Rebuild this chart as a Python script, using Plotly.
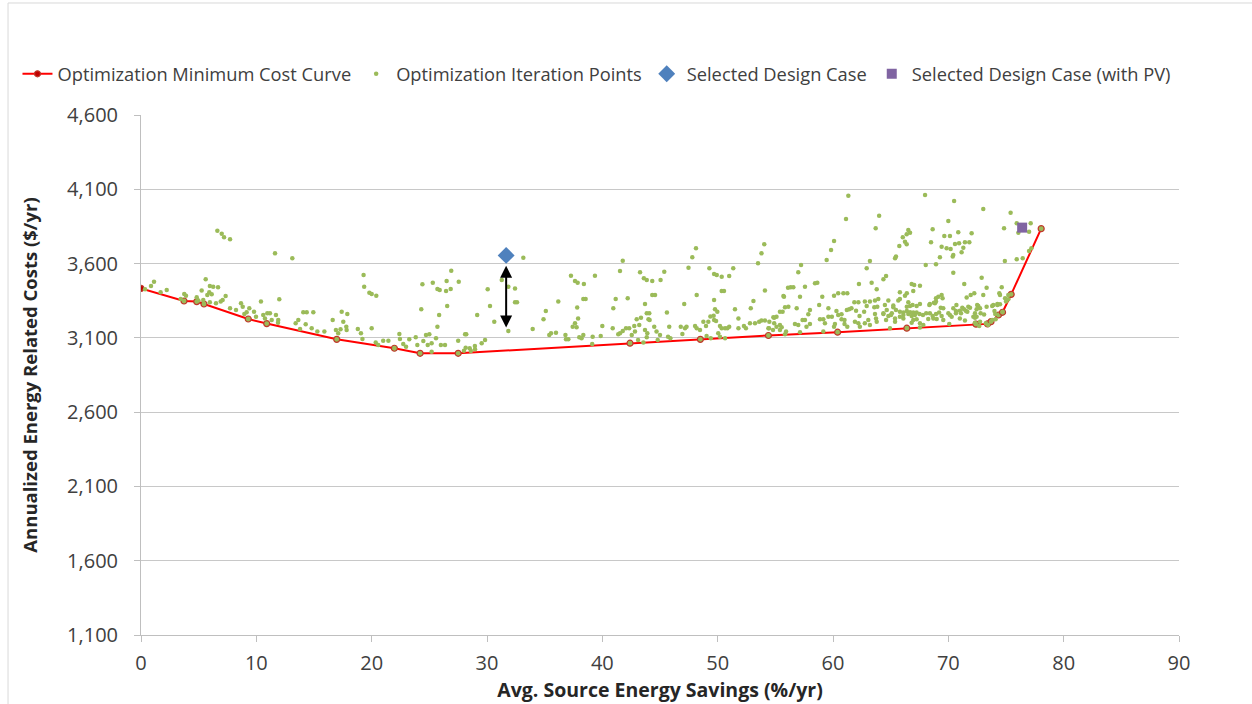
import plotly.graph_objects as go

# ---------------- data ----------------
curve_x = [0, 3.73, 4.83, 5.46, 9.3, 10.9, 16.97, 21.97, 24.2, 27.5, 42.4, 48.5, 54.4,
           60.4, 66.4, 72.4, 73.4, 73.7, 74.35, 74.7, 75.45, 78.05]
curve_y = [3433, 3348, 3344, 3328, 3227, 3196, 3090, 3030, 2996, 2996, 3064, 3090, 3116,
           3138, 3165, 3192, 3194, 3209, 3254, 3272, 3393, 3835]

# iteration points, x in 0-30
iter_x_a = [6.62, 7.0, 7.2, 7.72, 11.62, 13.12, 19.3, 19.35, 19.8, 20.0, 20.4,
            24.4, 24.3, 25.3, 25.7, 25.9, 26.45, 26.85, 26.9, 27.55, 26.55, 25.85, 25.7, 29.15,
            0.35, 0.87, 1.13, 1.7, 2.23, 3.44, 3.75, 3.9, 4.83, 4.97, 5.26, 5.61, 5.4, 5.75,
            5.92, 5.97, 6.13, 6.26, 6.68, 5.97, 6.5, 6.91, 7.08, 7.34, 7.72, 8.24, 8.67, 8.82,
            8.96, 9.16, 9.39, 9.8, 9.97, 10.4, 10.6, 10.75, 10.95, 11.18, 11.33, 11.7, 11.9,
            11.99, 11.88, 13.41, 13.64, 14.07, 14.37, 14.94, 14.28, 13.79, 14.8, 15.29, 15.9,
            16.62, 16.9, 17.4, 17.54, 17.1, 17.3, 17.89,
            17.8, 17.83, 18.8, 19.07, 19.2, 20.0, 20.35, 20.57, 21.0, 21.45, 22.4, 22.45, 22.74,
            23.26, 22.98, 23.82, 23.96, 24.48, 24.71, 25.0, 24.86, 25.2, 25.58, 26.0, 26.36,
            27.5, 28.1, 28.2, 28.95, 28.0, 28.5, 25.2,
            26.5, 28.15, 28.6, 28.96, 29.54, 29.83]
iter_y_a = [3821, 3800, 3777, 3763, 3669, 3635, 3523, 3444, 3404, 3395, 3384,
            3460, 3292, 3471, 3429, 3422, 3415, 3429, 3552, 3478, 3314, 3254, 3175, 3254,
            3427, 3449, 3478, 3407, 3422, 3361, 3395, 3384, 3373, 3351, 3418, 3495, 3355, 3388,
            3407, 3449, 3393, 3444, 3440, 3340, 3333, 3344, 3355, 3382, 3299, 3288, 3333, 3310,
            3261, 3272, 3299, 3276, 3242, 3344, 3254, 3231, 3265, 3265, 3220, 3254, 3220,
            3360, 3202, 3198, 3220, 3272, 3272, 3272, 3191, 3160, 3164, 3142, 3142,
            3220, 3153, 3276, 3209, 3131, 3158, 3261,
            3175, 3153, 3160, 3131, 3092, 3164, 3068, 3052, 3081, 3081, 3126, 3092, 3059,
            3090, 3040, 3104, 3052, 3079, 3119, 3124, 3052, 3063, 3097, 3052, 3052,
            3081, 3124, 3124, 3045, 3014, 3030, 3007,
            3483, 3034, 3011, 3023, 3063, 3086]

# iteration points, x in 30-56
iter_x_b = [30.06, 30.26, 30.63, 31.28, 31.85, 32.43, 32.43, 32.6, 31.85, 33.15, 33.96, 34.9,
            35.1, 35.4, 35.55, 35.98, 36.18, 36.8, 37.05, 36.85, 37.28, 37.63, 37.86, 38.4,
            37.43, 37.77, 37.63, 37.9, 37.82, 38.0, 38.2, 38.35, 38.55, 39.16, 39.12, 39.86,
            40.0, 39.36, 40.9, 40.95, 41.38, 41.53, 41.77, 41.16, 41.77, 41.53, 42.05, 42.33,
            42.2, 42.55, 42.83, 42.77, 43.2, 42.98, 43.35, 43.27, 43.6, 43.85, 44.33, 45.05,
            45.37, 43.7, 43.85, 44.07, 44.0, 44.1, 43.7, 43.9, 44.33, 44.57, 44.5, 44.7, 45.0,
            45.6, 45.8, 46.8, 47.17, 46.94, 47.1, 47.3, 47.47, 47.8, 48.12, 48.04, 48.18, 48.18,
            48.47, 48.76, 49.19, 48.99, 49.28, 49.69, 49.92, 50.35, 51.0, 51.35, 49.37, 49.65,
            49.77, 49.97, 49.69, 49.69, 49.86, 50.2, 50.35, 50.35, 50.55, 50.64, 50.84, 51.0,
            51.5, 51.8, 51.8, 52.87, 53.1, 52.8, 53.24, 53.6, 53.8, 54.1, 53.5, 53.8, 54.04,
            54.1, 54.9, 55.1, 55.4, 55.4, 55.63, 55.7, 56.1, 55.84, 55.4, 54.4, 54.8, 52.45,
            52.28, 50.64, 50.2, 50.05, 49.04, 49.4, 44.8, 43.56, 43.85, 43.1, 45.7, 45.9, 38.35]
iter_y_b = [3427, 3314, 3209, 3489, 3444, 3433, 3340, 3340, 3146, 3640, 3160, 3225,
            3281, 3119, 3131, 3135, 3344, 3119, 3090, 3090, 3518, 3483, 3471, 3462,
            3175, 3171, 3198, 3231, 3305, 3104, 3097, 3361, 3361, 3108, 3059, 3112,
            3180, 3518, 3164, 3299, 3124, 3131, 3146, 3361, 3619, 3550, 3164, 3164,
            3366, 3119, 3142, 3180, 3187, 3225, 3236, 3541, 3501, 3489, 3483, 3489,
            3545, 3328, 3265, 3265, 3225, 3220, 3153, 3131, 3388, 3388, 3175, 3142, 3119,
            3270, 3175, 3175, 3164, 3126, 3328, 3175, 3572, 3642, 3703, 3180, 3388, 3164,
            3153, 3209, 3209, 3180, 3568, 3530, 3523, 3512, 3516, 3568, 3243, 3249,
            3292, 3276, 3355, 3220, 3213, 3180, 3164, 3415, 3415, 3164, 3164, 3175,
            3292, 3231, 3164, 3299, 3348, 3198, 3198, 3209, 3216, 3216, 3602, 3669, 3730,
            3418, 3236, 3175, 3187, 3276, 3276, 3382, 3438, 3124, 3153, 3164, 3153, 3164,
            3180, 3097, 3108, 3131, 3112, 3097, 3086, 3068, 3104, 3086, 3108, 3097, 3119]

# iteration points, x in 54-78
iter_x_c = [61.33, 67.98, 70.5, 73.03, 75.4, 64.0, 61.13, 63.7, 70.0, 68.64, 74.83, 75.93,
            77.14, 76.07, 77.0, 66.53, 66.68, 66.39, 66.05, 66.24, 66.39, 65.75, 69.65, 70.14,
            70.86, 72.02, 69.42, 69.85, 70.2, 70.58, 70.93, 71.44, 71.82, 71.3, 70.43, 70.38,
            69.27, 71.15, 68.5, 65.38, 65.46, 68.04, 68.93, 70.43, 60.09, 59.83, 59.45, 57.23,
            56.99, 63.2, 62.92, 74.9, 75.93, 76.45, 77.0, 77.2, 64.6, 64.37, 62.25, 63.35,
            63.79, 66.82, 67.04, 67.54, 66.96, 71.38, 72.89, 73.32, 74.63, 58.44, 58.64, 57.57,
            56.33, 56.56, 59.07, 60.09, 60.9, 61.24, 61.85, 62.2, 62.76, 63.2, 63.64, 63.93,
            62.92, 63.58, 63.84, 64.8, 65.66, 66.24, 65.23, 66.4, 66.68, 66.9, 67.25, 67.54,
            68.35, 68.84, 68.93, 69.42, 69.5, 69.34, 69.56, 71.59, 71.94, 72.25, 71.21, 71.73,
            71.88, 72.6, 72.75, 73.32, 73.9, 74.25, 74.48, 74.92, 75.2, 72.8, 73.1, 72.17,
            72.31, 71.53, 71.1, 70.43, 70.66, 70.0, 70.29,
            65.8, 66.4, 73.03, 74.42, 75.2, 75.0, 65.8, 66.53, 64.5, 68.4, 68.75, 68.93, 69.13,
            70.7, 71.0, 71.36, 71.65, 72.5, 72.45, 73.8, 74.0, 74.07, 74.25, 74.48, 74.7,
            64.66, 65.23, 65.46, 65.1, 65.38, 65.8, 66.1, 66.4, 66.68, 66.96, 67.25, 66.1,
            66.53, 66.82, 67.1, 67.5, 67.8, 68.08, 65.8, 66.1, 66.96, 67.25, 66.82, 67.54,
            68.4, 68.64, 68.93, 69.2, 69.42, 68.26, 68.7, 68.99, 69.56, 70.08, 67.83, 64.37,
            67.54, 72.31, 72.45, 72.31, 72.68, 73.25, 73.45, 73.8, 74.1, 70.66, 70.14, 71.0,
            71.44, 72.75,
            55.75, 55.84, 56.13, 54.83, 55.1, 54.48, 54.9, 56.85, 56.7, 56.99, 57.36, 57.57,
            57.86, 58.0, 57.7, 57.14, 58.8, 58.87, 59.16, 59.3, 59.6, 59.9, 60.17, 60.09, 60.45,
            60.74, 60.74, 61.0, 61.2, 61.4, 61.6, 61.0, 61.24, 62.0, 61.9, 62.2, 62.3, 62.7,
            62.76, 63.06, 63.64, 63.73, 63.79, 64.37, 64.8, 65.03, 64.6, 65.38, 62.33, 63.2,
            59.16, 55.55, 55.93, 54.45, 57.14, 60.45, 60.3, 59.6, 58.0, 64.94]
iter_y_c = [4057, 4062, 4021, 3967, 3942, 3922, 3900, 3837, 3887, 3831, 3837, 3871,
            3871, 3808, 3815, 3826, 3808, 3797, 3777, 3747, 3730, 3718, 3786, 3786,
            3810, 3804, 3714, 3703, 3698, 3732, 3737, 3743, 3743, 3707, 3658, 3647,
            3642, 3676, 3743, 3635, 3647, 3590, 3595, 3539, 3752, 3691, 3624, 3590,
            3541, 3617, 3568, 3617, 3629, 3635, 3685, 3703, 3516, 3494, 3462, 3471,
            3427, 3462, 3456, 3451, 3415, 3462, 3505, 3438, 3440, 3467, 3471, 3444,
            3440, 3440, 3377, 3384, 3400, 3400, 3340, 3340, 3344, 3344, 3351, 3361,
            3314, 3306, 3310, 3351, 3351, 3384, 3317, 3310, 3314, 3321, 3314, 3328,
            3321, 3333, 3344, 3388, 3366, 3303, 3299, 3371, 3388, 3400, 3303, 3310,
            3303, 3314, 3299, 3310, 3321, 3328, 3388, 3366, 3388, 3265, 3258, 3242,
            3236, 3281, 3265, 3299, 3281, 3265, 3242,
            3407, 3400, 3388, 3400, 3360, 3344, 3361, 3340, 3321, 3328, 3337, 3366, 3377,
            3321, 3283, 3292, 3276, 3321, 3292, 3314, 3281, 3261, 3321, 3326, 3276,
            3288, 3306, 3288, 3265, 3231, 3276, 3270, 3281, 3272, 3270, 3270, 3254,
            3261, 3247, 3254, 3261, 3254, 3265, 3242, 3231, 3220, 3225, 3202, 3198,
            3265, 3247, 3261, 3270, 3247, 3227, 3231, 3227, 3220, 3193, 3187, 3265,
            3169, 3265, 3242, 3202, 3180, 3198, 3187, 3220, 3225, 3265, 3254, 3231,
            3216, 3209,
            3377, 3306, 3310, 3238, 3242, 3209, 3198, 3299, 3193, 3187, 3220, 3220,
            3259, 3193, 3175, 3137, 3321, 3225, 3225, 3198, 3242, 3242, 3193, 3175, 3254,
            3259, 3225, 3220, 3288, 3292, 3299, 3193, 3175, 3283, 3209, 3198, 3247, 3276,
            3198, 3220, 3261, 3231, 3209, 3261, 3247, 3254, 3220, 3209, 3175, 3187,
            3142, 3171, 3142, 3164, 3377, 3400, 3281, 3299, 3288, 3164]

iter_x = iter_x_a + iter_x_b + iter_x_c
iter_y = iter_y_a + iter_y_b + iter_y_c

design_x = [31.66]
design_y = [3655]
design_pv_x = [76.4]
design_pv_y = [3842]

# double-headed arrow between selected design and the optimum band
arrow_x = 31.66
arrow_top = 3595
arrow_bottom = 3170

x_ticks = [0, 10, 20, 30, 40, 50, 60, 70, 80, 90]
y_ticks = [1100, 1600, 2100, 2600, 3100, 3600, 4100, 4600]

# ---------------- figure ----------------
FONT = "Open Sans"
fig = go.Figure()

fig.add_trace(go.Scatter(
    x=curve_x, y=curve_y, mode="lines+markers",
    name="Optimization Minimum Cost Curve",
    line=dict(color="#ff0000", width=2),
    marker=dict(size=6, color=["#c00000"] + ["#9bbb59"] * (len(curve_x) - 1),
                line=dict(color="#c0392b", width=1.2)),
))
fig.add_trace(go.Scatter(
    x=iter_x, y=iter_y, mode="markers",
    name="Optimization Iteration Points",
    marker=dict(size=4.5, color="#9bbb59"),
))
fig.add_trace(go.Scatter(
    x=design_x, y=design_y, mode="markers",
    name="Selected Design Case",
    marker=dict(symbol="diamond", size=13, color="#4f81bd"),
))
fig.add_trace(go.Scatter(
    x=design_pv_x, y=design_pv_y, mode="markers",
    name="Selected Design Case (with PV)",
    marker=dict(symbol="square", size=10, color="#8064a2"),
))

fig.add_annotation(
    x=arrow_x, y=arrow_bottom, ax=arrow_x, ay=arrow_top,
    xref="x", yref="y", axref="x", ayref="y",
    showarrow=True, arrowhead=2, startarrowhead=2, arrowside="end+start",
    arrowsize=1.2, arrowwidth=2, arrowcolor="#000000", text="",
)

# outer chart frame
fig.add_shape(type="rect", xref="paper", yref="paper",
              x0=-0.1281, x1=1.09, y0=-0.16, y1=1.2154,
              line=dict(color="#d9d9d9", width=1), fillcolor="rgba(0,0,0,0)", layer="below")

fig.update_layout(
    width=1252, height=704,
    margin=dict(l=141, r=73, t=115, b=69),
    paper_bgcolor="white", plot_bgcolor="white",
    font=dict(family=FONT, color="#404040", size=18),
    legend=dict(orientation="h", x=-0.119, y=1.079, xanchor="left", yanchor="middle",
                font=dict(family=FONT, size=18.3, color="#404040"),
                itemwidth=30, tracegroupgap=0),
    showlegend=True,
)
fig.update_xaxes(
    range=[0, 90], tickvals=x_ticks, ticktext=[str(v) for v in x_ticks],
    showgrid=False, zeroline=False, automargin=False,
    showline=True, linecolor="#bfbfbf", linewidth=1,
    ticks="outside", ticklen=6, tickcolor="#bfbfbf", ticklabelstandoff=4,
    tickfont=dict(family=FONT, size=20, color="#404040"),
    title=dict(text="<b>Avg. Source Energy Savings (%/yr)</b>",
               font=dict(family=FONT, size=19.5, color="#262626"), standoff=6),
)
fig.update_yaxes(
    range=[1100, 4600], tickvals=y_ticks, ticktext=[f"{v:,}" for v in y_ticks],
    showgrid=True, gridcolor="#c8c8c8", gridwidth=1, zeroline=False, automargin=False,
    showline=True, linecolor="#bfbfbf", linewidth=1,
    ticks="outside", ticklen=6, tickcolor="#bfbfbf", ticklabelstandoff=12,
    tickfont=dict(family=FONT, size=20, color="#404040"),
    title=dict(text="<b>Annualized Energy Related Costs ($/yr)</b>",
               font=dict(family=FONT, size=18.5, color="#262626"), standoff=24),
)

fig.write_html("out.html")
